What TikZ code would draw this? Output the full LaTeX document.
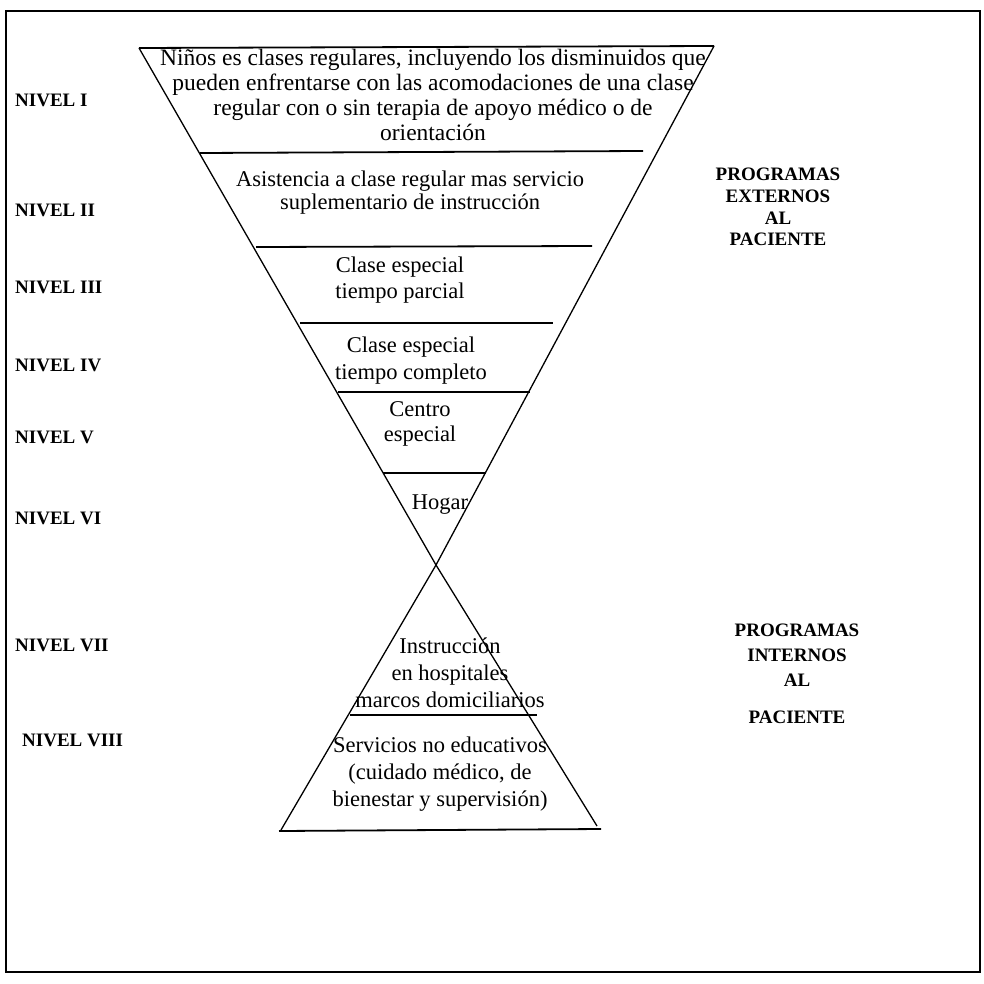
\documentclass[tikz,border=0pt]{standalone}
\usepackage{fontspec}
\setmainfont{Liberation Serif}
\begin{document}
\begin{tikzpicture}[x=1pt,y=-1pt,
  level/.style={font=\fontsize{19}{22}\selectfont\bfseries, anchor=west, inner sep=0pt},
  band/.style={font=\fontsize{22.5}{25}\selectfont, align=center, inner sep=0pt},
  side/.style={font=\fontsize{19}{21.7}\selectfont\bfseries, align=center, inner sep=0pt},
  edge/.style={line width=1.3pt},
  rule/.style={line width=1.8pt},
  frame/.style={line width=2.5pt}]
\useasboundingbox (0,0) rectangle (984,984);

% outer frame
\draw[frame] (6,11) rectangle (980,972);

% corners of the two crossing triangles
\coordinate (tl) at (139,48);
\coordinate (tr) at (714,46);
\coordinate (cross) at (436,565);
\coordinate (bl) at (281,830);
\coordinate (br) at (597,826);

\draw[edge] (tl) -- (cross) -- (br);
\draw[edge] (tr) -- (cross) -- (bl);
\draw[rule] (tl) -- (tr);

% level dividers
\draw[rule] (200,153) -- (643,151);
\draw[rule] (256,247) -- (592,246);
\draw[rule] (300,323) -- (553,323);
\draw[rule] (338,392) -- (530,392);
\draw[rule] (383,473) -- (486,473);
\draw[rule] (350,715) -- (537,715);
\draw[rule] (279,831) -- (601,829);

% contents of each band
\node[band, font=\fontsize{23.5}{25}\selectfont] (b1) at (433,95) {Niños es clases regulares, incluyendo los disminuidos que\\pueden enfrentarse con las acomodaciones de una clase\\regular con o sin terapia de apoyo médico o de\\orientación};
\node[band, font=\fontsize{22.5}{23}\selectfont] (b2) at (410,193) {Asistencia a clase regular mas servicio\\suplementario de instrucción};
\node[band, font=\fontsize{22.5}{26}\selectfont] (b3) at (400,280) {Clase especial\\tiempo parcial};
\node[band, font=\fontsize{22.5}{27}\selectfont] (b4) at (411,361) {Clase especial\\tiempo completo};
\node[band] (b5) at (420,424) {Centro\\especial};
\node[band] (b6) at (440,505) {Hogar};
\node[band, font=\fontsize{22.5}{27}\selectfont] (b7) at (450,673) {Instrucción\\en hospitales\\marcos domiciliarios};
\node[band, font=\fontsize{22.5}{27}\selectfont] (b8) at (440,774) {Servicios no educativos\\(cuidado médico, de\\bienestar y supervisión)};

% level labels
\node[level] (n1) at (15,100) {NIVEL I};
\node[level] (n2) at (15,210) {NIVEL II};
\node[level] (n3) at (15,287) {NIVEL III};
\node[level] (n4) at (15,365) {NIVEL IV};
\node[level] (n5) at (15,437) {NIVEL V};
\node[level] (n6) at (15,518) {NIVEL VI};
\node[level] (n7) at (15,645) {NIVEL VII};
\node[level] (n8) at (22,740) {NIVEL VIII};

% program groups
\node[side] (ext) at (778,207) {PROGRAMAS\\EXTERNOS\\AL\\PACIENTE};
\node[side, font=\fontsize{19}{25}\selectfont\bfseries] (int) at (797,674) {PROGRAMAS\\INTERNOS\\AL\\[12pt]PACIENTE};
\end{tikzpicture}
\end{document}
